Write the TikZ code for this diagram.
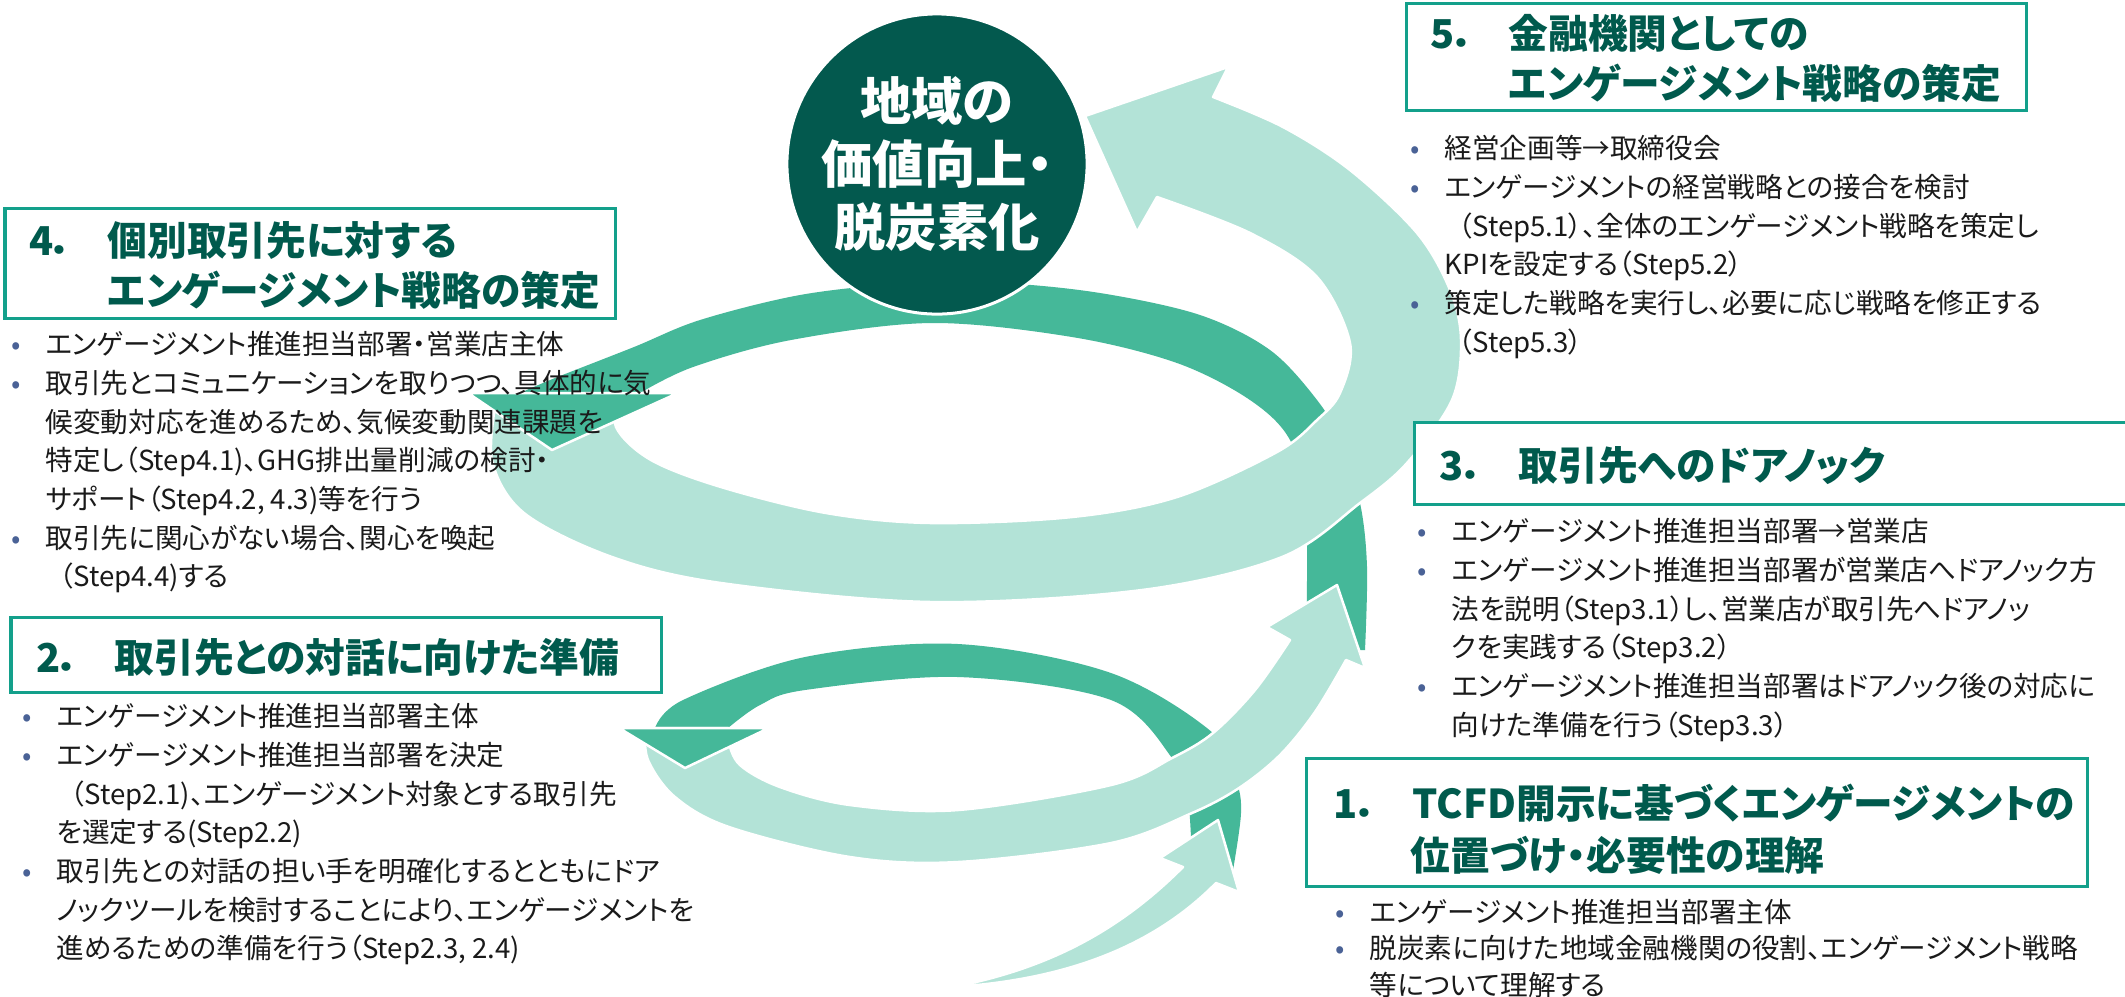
\documentclass[tikz,border=0pt]{standalone}
\usepackage{fontspec}
\setmainfont{Noto Sans CJK JP}[RawFeature=+palt]
\definecolor{circc}{HTML}{03594E}
\definecolor{darkc}{HTML}{45B899}
\definecolor{lightc}{HTML}{B3E3D7}
\definecolor{boxc}{HTML}{13A08B}
\definecolor{titlec}{HTML}{005A4D}
\definecolor{bodyc}{HTML}{1A1A1A}
\definecolor{bulc}{HTML}{4A6296}
\newcommand\bl{\strut\llap{\textcolor{bulc}{•}\hspace{0.25cm}}}
\newcommand\cl{\strut}
\newcommand\pp{\hspace*{0.14cm}}
\begin{document}
\begin{tikzpicture}[x=0.01cm,y=-0.01cm,
 lightband/.style={fill=lightc, draw=white, line width=0.025cm, line join=round},
 darkband/.style={fill=darkc},
 darkhead/.style={fill=darkc, draw=white, line width=0.025cm, line join=round},
 boxframe/.style={draw=boxc, fill=white, line width=0.03cm},
 title/.style={anchor=base west, inner sep=0, text=titlec, font={\fontsize{11.3pt}{14pt}\selectfont\bfseries}},
 body/.style={anchor=north west, inner sep=0, align=left, text=bodyc, font={\fontsize{7.85pt}{11pt}\selectfont}},
 bodytight/.style={body, font={\fontsize{7.85pt}{10.4pt}\selectfont}},
]
\useasboundingbox (0,0) rectangle (2125,996);
\fill[white] (0,0) rectangle (2125,996);

% ---- upper ring: dark back band
\path[darkband] plot[smooth,tension=0.55] coordinates {(1365,650) (1367,567) (1360,503) (1340,440) (1317,400) (1270,350) (1200,315) (1100,293) (1000,283) (900,284) (800,295) (700,320) (634,347) (555,378) (520,393)}
 -- plot[smooth,tension=0.55] coordinates {(640,393) (693,367) (791,340) (931,323) (1072,337) (1177,363) (1250,400) (1290,440) (1306,503) (1306,650)} -- cycle;
% ---- upper ring: light front band with head to the circle
\path[lightband] plot[smooth,tension=0.55] coordinates {(1213,97) (1283,127) (1350,170) (1417,233) (1450,290) (1461,340) (1452,400) (1407,463) (1360,503) (1282,557) (1142,590) (931,602) (721,583) (612,557) (524,513) (492,460) (497,395)}
 -- plot[smooth,tension=0.55] coordinates {(620,393) (616,427) (651,460) (721,487) (826,513) (931,523) (1072,517) (1177,497) (1277,452) (1317,420) (1340,393) (1350,343) (1317,277) (1250,233) (1157,197)}
 -- (1137,232) -- (1085,116) -- (1228,67) -- cycle;
\path[darkhead] (468,393) -- (678,393) -- (552,450) -- cycle;

% ---- lower ring: dark back band
\path[darkband] plot[smooth,tension=0.55] coordinates {(1233,870) (1241,813) (1236,780) (1213,733) (1111,673) (958,644) (805,657) (683,700) (655,728)}
 -- plot[smooth,tension=0.55] coordinates {(728,728) (760,705) (805,690) (958,677) (1111,700) (1172,758) (1188,800) (1192,870)} -- cycle;
% ---- lower ring: light front band with head
\path[lightband] plot[smooth,tension=0.55] coordinates {(645,728) (648,760) (675,797) (729,827) (850,857) (958,862) (1111,843) (1192,813) (1239,788) (1280,755) (1315,712) (1346,660)}
 -- (1365,668) -- (1337,585) -- (1267,627)
 -- plot[smooth,tension=0.55] coordinates {(1290,640) (1255,690) (1213,733) (1172,758) (1111,785) (958,810) (850,805) (780,787) (740,765) (728,740) (728,728)} -- cycle;
\path[darkhead] (619,728) -- (769,728) -- (685,768) -- cycle;

% ---- tail
\path[lightband] (953,987) .. controls (1060,980) and (1150,950) .. (1216,883) -- (1239,892) -- (1218,820) -- (1160,858) -- (1183,867) .. controls (1120,930) and (1050,968) .. (953,987) -- cycle;

% ---- centre circle
\node[circle, fill=circc, draw=white, line width=0.03cm, minimum size=3cm, inner sep=0, align=center, text=white,
 font={\fontsize{14.6pt}{17.9pt}\selectfont\bfseries}] (goal) at (937,164) {地域の\\価値向上・\\脱炭素化};

% ---- boxes
\draw[boxframe] (1406,3) rectangle (2026,110);
\draw[boxframe] (5,208) rectangle (615,318);
\draw[boxframe] (1414,422) rectangle (2140,504);
\draw[boxframe] (11,617) rectangle (661,692);
\draw[boxframe] (1306,758) rectangle (2087,886);

% ---- titles
\node[title] (n5) at (1430,48.6) {5．};
\node[title] (t5a) at (1508,48.6) {金融機関としての};
\node[title] (t5b) at (1508,98.6) {エンゲージメント戦略の策定};
\node[title] (n4) at (29,255.6) {4．};
\node[title] (t4a) at (107,255.6) {個別取引先に対する};
\node[title] (t4b) at (107,305.6) {エンゲージメント戦略の策定};
\node[title] (n3) at (1439,480.6) {3．};
\node[title] (t3a) at (1518,480.6) {取引先へのドアノック};
\node[title] (n2) at (36,672.6) {2．};
\node[title] (t2a) at (114,672.6) {取引先との対話に向けた準備};
\node[title] (n1) at (1333,818.6) {1．};
\node[title] (t1a) at (1412,818.6) {TCFD開示に基づくエンゲージメントの};
\node[title] (t1b) at (1410,870.6) {位置づけ・必要性の理解};

% ---- bullet texts
\node[body] (b5) at (1444,131) {\bl 経営企画等→取締役会\\
\bl エンゲージメントの経営戦略との接合を検討\\
\cl\pp （Step5.1）、全体のエンゲージメント戦略を策定し\\
\cl KPIを設定する（Step5.2）\\
\bl 策定した戦略を実行し、必要に応じ戦略を修正する\\
\cl\pp （Step5.3）};
\node[body] (b4) at (45,327) {\bl エンゲージメント推進担当部署・営業店主体\\
\bl 取引先とコミュニケーションを取りつつ、具体的に気\\
\cl 候変動対応を進めるため、気候変動関連課題を\\
\cl 特定し（Step4.1)、GHG排出量削減の検討・\\
\cl サポート（Step4.2, 4.3)等を行う\\
\bl 取引先に関心がない場合、関心を喚起\\
\cl\pp （Step4.4)する};
\node[body] (b3) at (1451,514) {\bl エンゲージメント推進担当部署→営業店\\
\bl エンゲージメント推進担当部署が営業店へドアノック方\\
\cl 法を説明（Step3.1）し、営業店が取引先へドアノッ\\
\cl クを実践する（Step3.2）\\
\bl エンゲージメント推進担当部署はドアノック後の対応に\\
\cl 向けた準備を行う（Step3.3）};
\node[body] (b2) at (56,699) {\bl エンゲージメント推進担当部署主体\\
\bl エンゲージメント推進担当部署を決定\\
\cl\pp （Step2.1)、エンゲージメント対象とする取引先\\
\cl を選定する(Step2.2)\\
\bl 取引先との対話の担い手を明確化するとともにドア\\
\cl ノックツールを検討することにより、エンゲージメントを\\
\cl 進めるための準備を行う（Step2.3, 2.4)};
\node[bodytight] (b1) at (1369,896) {\bl エンゲージメント推進担当部署主体\\
\bl 脱炭素に向けた地域金融機関の役割、エンゲージメント戦略\\
\cl 等について理解する};
\end{tikzpicture}
\end{document}
